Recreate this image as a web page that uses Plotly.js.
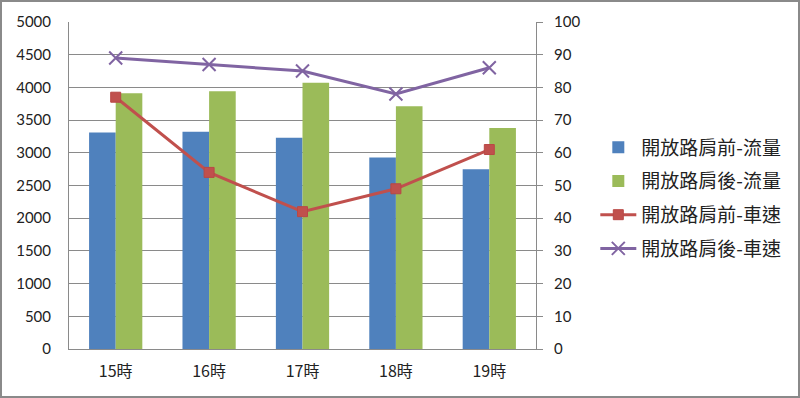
<!DOCTYPE html>
<html>
<head>
<meta charset="utf-8">
<script src="https://cdn.plot.ly/plotly-3.0.1.min.js"></script>
<style>
html,body{margin:0;padding:0;background:#fff;}
#wrap{width:800px;height:398px;box-sizing:border-box;border:2px solid #8a8a8a;overflow:hidden;}
#chart{width:796px;height:394px;}
</style>
</head>
<body>
<div id="wrap"><div id="chart"></div></div>
<script>
const categories = ["15時", "16時", "17時", "18時", "19時"];
const flowBefore = [3310, 3320, 3230, 2930, 2750];
const flowAfter = [3910, 3940, 4070, 3710, 3380];
const speedBefore = [77, 54, 42, 49, 61];
const speedAfter = [89, 87, 85, 78, 86];
const names = ["開放路肩前-流量", "開放路肩後-流量", "開放路肩前-車速", "開放路肩後-車速"];
const leftTicks = [0, 500, 1000, 1500, 2000, 2500, 3000, 3500, 4000, 4500, 5000];
const rightTicks = [0, 10, 20, 30, 40, 50, 60, 70, 80, 90, 100];

const fontFam = "Lato, 'Noto Sans CJK TC', sans-serif";

const traces = [
  {type: "bar", x: categories, y: flowBefore, name: names[0], legendgroup: "a", marker: {color: "#4F81BD"}},
  {type: "bar", x: categories, y: flowAfter, name: names[1], legendgroup: "b", marker: {color: "#9BBB59"}},
  {type: "scatter", mode: "lines+markers", x: categories, y: speedBefore, name: names[2], yaxis: "y2", legendgroup: "c",
   line: {color: "#C0504D", width: 3}, marker: {symbol: "square", size: 10, color: "#C0504D", line: {color: "#B94845", width: 1}}},
  {type: "scatter", mode: "lines+markers", x: categories, y: speedAfter, name: names[3], yaxis: "y2", legendgroup: "d",
   line: {color: "#8064A2", width: 3}, marker: {symbol: "x-thin", size: 13, color: "#8064A2", line: {color: "#8064A2", width: 2}}}
];

const layout = {
  width: 796, height: 394,
  margin: {l: 67, r: 260, t: 20, b: 47},
  paper_bgcolor: "#fff", plot_bgcolor: "#fff",
  font: {family: fontFam, size: 15, color: "#222"},
  barmode: "group", bargap: 0.43, bargroupgap: 0,
  showlegend: true,
  legend: {x: 1.127, y: 0.462, xanchor: "left", yanchor: "middle", font: {size: 19, family: "'Noto Sans CJK TC', sans-serif", color: "#222"}, tracegroupgap: 6, itemwidth: 36, bgcolor: "rgba(0,0,0,0)"},
  xaxis: {type: "category", showline: true, linecolor: "#8a8a8a", linewidth: 1, ticks: "", showgrid: false,
          tickfont: {size: 16, family: "'Noto Sans CJK TC', sans-serif"}, ticklabelstandoff: 8, fixedrange: true},
  yaxis: {range: [0, 5000], tickvals: leftTicks, ticktext: leftTicks.map(String), showline: true, linecolor: "#8a8a8a", linewidth: 1,
          showgrid: true, gridcolor: "#8a8a8a", gridwidth: 1, ticks: "", ticklabelstandoff: 14, zeroline: false,
          tickfont: {size: 15, family: fontFam}},
  yaxis2: {range: [0, 100], tickvals: rightTicks, ticktext: rightTicks.map(String), overlaying: "y", side: "right", showline: true,
           linecolor: "#8a8a8a", linewidth: 1, showgrid: false, ticks: "outside", ticklen: 6, tickcolor: "#8a8a8a",
           ticklabelstandoff: 8, zeroline: false, tickfont: {size: 15, family: fontFam}}
};

Plotly.newPlot("chart", traces, layout, {displayModeBar: false, staticPlot: true});
</script>
</body>
</html>
